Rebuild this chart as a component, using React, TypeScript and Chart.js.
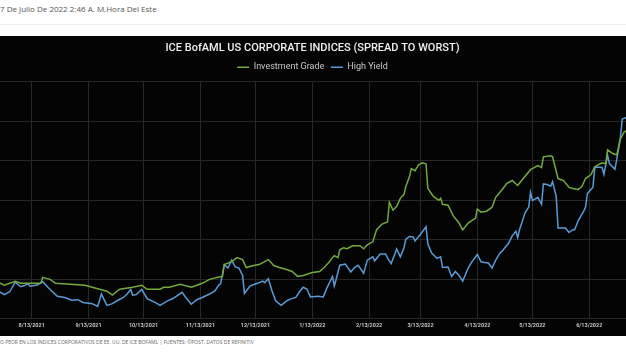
import React, { useEffect, useRef } from "react";
import { Chart, registerables } from "chart.js";

Chart.register(...registerables);

// ---------- data ----------
const BASE_DATE = "2021-08-13";

const igDates = [
  "2021-07-23", "2021-07-27", "2021-07-29", "2021-08-04", "2021-08-07", "2021-08-12", "2021-08-18", "2021-08-19",
  "2021-08-23", "2021-08-26", "2021-09-03", "2021-09-11", "2021-09-15", "2021-09-19", "2021-09-23", "2021-09-26",
  "2021-09-30", "2021-10-07", "2021-10-12", "2021-10-15", "2021-10-22", "2021-10-24", "2021-10-27", "2021-11-02",
  "2021-11-08", "2021-11-11", "2021-11-14", "2021-11-18", "2021-11-22", "2021-11-25", "2021-11-26", "2021-11-30",
  "2021-12-03", "2021-12-06", "2021-12-08", "2021-12-12", "2021-12-15", "2021-12-20", "2021-12-23", "2021-12-26",
  "2021-12-30", "2022-01-02", "2022-01-05", "2022-01-08", "2022-01-13", "2022-01-17", "2022-01-20", "2022-01-22",
  "2022-01-24", "2022-01-25", "2022-01-27", "2022-01-28", "2022-01-30", "2022-02-01", "2022-02-04", "2022-02-08",
  "2022-02-10", "2022-02-12", "2022-02-15", "2022-02-17", "2022-02-20", "2022-02-23", "2022-02-24", "2022-02-26",
  "2022-02-28", "2022-03-02", "2022-03-04", "2022-03-05", "2022-03-07", "2022-03-08", "2022-03-10", "2022-03-12",
  "2022-03-14", "2022-03-16", "2022-03-17", "2022-03-20", "2022-03-23", "2022-03-24", "2022-03-25", "2022-03-28",
  "2022-03-31", "2022-04-03", "2022-04-05", "2022-04-08", "2022-04-12", "2022-04-13", "2022-04-15", "2022-04-18",
  "2022-04-21", "2022-04-23", "2022-04-27", "2022-04-29", "2022-05-02", "2022-05-05", "2022-05-08", "2022-05-12",
  "2022-05-16", "2022-05-18", "2022-05-19", "2022-05-23", "2022-05-24", "2022-05-27", "2022-05-30", "2022-06-02",
  "2022-06-04", "2022-06-07", "2022-06-09", "2022-06-11", "2022-06-14", "2022-06-16", "2022-06-20", "2022-06-22",
  "2022-06-23", "2022-06-26", "2022-06-28", "2022-06-30", "2022-07-02", "2022-07-03", "2022-07-05",
];
const igValues = [
  0.88, 0.88, 0.87, 0.89, 0.88, 0.88, 0.88, 0.91,
  0.90, 0.88, 0.875, 0.87, 0.86, 0.85, 0.84, 0.82,
  0.85, 0.86, 0.87, 0.85, 0.85, 0.86, 0.86, 0.875,
  0.86, 0.87, 0.88, 0.90, 0.91, 0.915, 0.975, 0.99,
  1.01, 1.0, 0.96, 0.97, 0.975, 1.0, 0.97, 0.96,
  0.95, 0.94, 0.915, 0.92, 0.935, 0.94, 0.965, 0.985,
  1.01, 1.02, 1.01, 1.05, 1.06, 1.055, 1.07, 1.07,
  1.055, 1.075, 1.09, 1.15, 1.18, 1.19, 1.29, 1.25,
  1.27, 1.31, 1.33, 1.37, 1.42, 1.46, 1.45, 1.48,
  1.49, 1.485, 1.36, 1.32, 1.30, 1.31, 1.28, 1.275,
  1.22, 1.185, 1.15, 1.185, 1.21, 1.255, 1.24, 1.245,
  1.265, 1.315, 1.36, 1.385, 1.40, 1.375, 1.41, 1.455,
  1.475, 1.465, 1.52, 1.525, 1.52, 1.41, 1.40, 1.365,
  1.36, 1.355, 1.37, 1.41, 1.43, 1.47, 1.49, 1.485,
  1.555, 1.535, 1.53, 1.61, 1.645, 1.65, 1.65,
];

const hyDates = [
  "2021-07-23", "2021-07-27", "2021-07-29", "2021-08-01", "2021-08-04", "2021-08-07", "2021-08-09", "2021-08-11",
  "2021-08-12", "2021-08-16", "2021-08-19", "2021-08-23", "2021-08-27", "2021-08-31", "2021-09-04", "2021-09-07",
  "2021-09-10", "2021-09-15", "2021-09-18", "2021-09-20", "2021-09-23", "2021-09-26", "2021-09-29", "2021-10-02",
  "2021-10-04", "2021-10-06", "2021-10-07", "2021-10-09", "2021-10-12", "2021-10-15", "2021-10-20", "2021-10-22",
  "2021-10-26", "2021-10-29", "2021-11-03", "2021-11-05", "2021-11-08", "2021-11-11", "2021-11-14", "2021-11-18",
  "2021-11-21", "2021-11-23", "2021-11-24", "2021-11-26", "2021-11-28", "2021-11-30", "2021-12-02", "2021-12-04",
  "2021-12-06", "2021-12-07", "2021-12-10", "2021-12-14", "2021-12-17", "2021-12-18", "2021-12-20", "2021-12-22",
  "2021-12-24", "2021-12-27", "2021-12-30", "2022-01-01", "2022-01-04", "2022-01-06", "2022-01-08", "2022-01-10",
  "2022-01-12", "2022-01-16", "2022-01-19", "2022-01-21", "2022-01-24", "2022-01-25", "2022-01-28", "2022-01-31",
  "2022-02-03", "2022-02-05", "2022-02-07", "2022-02-10", "2022-02-12", "2022-02-15", "2022-02-16", "2022-02-19",
  "2022-02-22", "2022-02-23", "2022-02-25", "2022-02-27", "2022-02-28", "2022-03-02", "2022-03-04", "2022-03-05",
  "2022-03-07", "2022-03-09", "2022-03-10", "2022-03-13", "2022-03-16", "2022-03-17", "2022-03-19", "2022-03-22",
  "2022-03-24", "2022-03-25", "2022-03-28", "2022-03-30", "2022-04-01", "2022-04-03", "2022-04-05", "2022-04-08",
  "2022-04-10", "2022-04-13", "2022-04-15", "2022-04-17", "2022-04-19", "2022-04-21", "2022-04-23", "2022-04-25",
  "2022-04-27", "2022-04-30", "2022-05-02", "2022-05-04", "2022-05-05", "2022-05-06", "2022-05-09", "2022-05-11",
  "2022-05-12", "2022-05-13", "2022-05-16", "2022-05-18", "2022-05-19", "2022-05-21", "2022-05-23", "2022-05-24",
  "2022-05-26", "2022-05-27", "2022-05-31", "2022-06-02", "2022-06-04", "2022-06-05", "2022-06-07", "2022-06-10",
  "2022-06-11", "2022-06-12", "2022-06-15", "2022-06-16", "2022-06-17", "2022-06-20", "2022-06-21", "2022-06-23",
  "2022-06-24", "2022-06-27", "2022-06-28", "2022-06-30", "2022-07-01", "2022-07-03", "2022-07-05",
];
const hyValues = [
  2.88, 2.87, 2.83, 2.88, 3.05, 2.97, 2.99, 3.02,
  2.98, 3.00, 3.06, 2.92, 2.80, 2.78, 2.73, 2.74,
  2.69, 2.67, 2.62, 2.84, 2.64, 2.67, 2.73, 2.78,
  2.84, 2.92, 2.82, 2.83, 2.92, 2.76, 2.68, 2.64,
  2.72, 2.76, 2.87, 2.78, 2.66, 2.74, 2.78, 2.84,
  2.90, 3.00, 3.02, 3.36, 3.30, 3.44, 3.32, 3.30,
  3.17, 2.85, 2.98, 3.03, 3.07, 3.04, 3.11, 2.90,
  2.72, 2.64, 2.72, 2.75, 2.78, 2.88, 2.96, 2.93,
  2.79, 2.80, 2.79, 2.95, 3.15, 2.98, 3.35, 3.37,
  3.23, 3.31, 3.35, 3.21, 3.44, 3.50, 3.43, 3.55,
  3.55, 3.48, 3.38, 3.55, 3.64, 3.50, 3.66, 3.81,
  3.86, 3.85, 3.78, 3.90, 4.03, 3.73, 3.57, 3.47,
  3.50, 3.31, 3.32, 3.15, 3.24, 3.17, 3.07, 3.30,
  3.41, 3.54, 3.41, 3.40, 3.39, 3.30, 3.44, 3.55,
  3.62, 3.74, 3.87, 3.95, 3.84, 3.98, 4.28, 4.38,
  4.64, 4.50, 4.55, 4.43, 4.79, 4.78, 4.75, 4.83,
  4.57, 4.01, 4.01, 3.93, 3.98, 3.98, 4.14, 4.31,
  4.38, 4.62, 4.73, 5.07, 5.09, 5.08, 4.96, 5.30,
  5.15, 5.05, 5.22, 5.62, 5.94, 5.96, 5.96,
];

const tickDates = [
  "2021-08-13", "2021-09-13", "2021-10-13", "2021-11-13", "2021-12-13", "2022-01-13",
  "2022-02-13", "2022-03-13", "2022-04-13", "2022-05-13", "2022-06-13",
];
const tickLabels = [
  "8/13/2021", "9/13/2021", "10/13/2021", "11/13/2021", "12/13/2021", "1/13/2022",
  "2/13/2022", "3/13/2022", "4/13/2022", "5/13/2022", "6/13/2022",
];

const TITLE = "ICE BofAML US CORPORATE INDICES (SPREAD TO WORST)";
const HEADER = "7 De Julio De 2022 2:46 A. M.Hora Del Este";
const CAPTION =
  "O PEOR EN LOS ÍNDICES CORPORATIVOS DE EE. UU. DE ICE BOFAML | FUENTES: ©POST, DATOS DE REFINITIV";

// ---------- styling / layout ----------
const GREEN = "#73ab3f";
const BLUE = "#5b9bd6";
const GRID = "#262729";
const PANEL = "#040405";
const CHART_FONT = "Roboto, 'Noto Sans', sans-serif";

const CANVAS_LEFT = -40;
const CANVAS_W = 705;
const CANVAS_H = 300;
// visible time axis: 8/13/2021 sits at x = 31.7px, 1.834 px per day
const AXIS_ORIGIN_PX = 31.7;
const PX_PER_DAY = 1.834;

const dayOffset = (s: string) =>
  (Date.parse(s + "T00:00:00Z") - Date.parse(BASE_DATE + "T00:00:00Z")) / 86400000;

export default function App() {
  const ref = useRef<HTMLCanvasElement | null>(null);

  useEffect(() => {
    if (!ref.current) return;
    const xMin = (CANVAS_LEFT - AXIS_ORIGIN_PX) / PX_PER_DAY;
    const xMax = (CANVAS_LEFT + CANVAS_W - AXIS_ORIGIN_PX) / PX_PER_DAY;
    const chart = new Chart(ref.current, {
      type: "line",
      data: {
        datasets: [
          {
            label: "Investment Grade",
            data: igDates.map((d, i) => ({ x: dayOffset(d), y: igValues[i] })),
            borderColor: GREEN,
            backgroundColor: GREEN,
            borderWidth: 1.5,
            pointRadius: 0,
            tension: 0,
            yAxisID: "yIG",
          },
          {
            label: "High Yield",
            data: hyDates.map((d, i) => ({ x: dayOffset(d), y: hyValues[i] })),
            borderColor: BLUE,
            backgroundColor: BLUE,
            borderWidth: 1.5,
            pointRadius: 0,
            tension: 0,
            yAxisID: "yHY",
          },
        ],
      },
      options: {
        animation: false,
        responsive: false,
        maintainAspectRatio: false,
        layout: { padding: { left: 0, right: 0, top: 0, bottom: 4.5 } },
        plugins: {
          title: {
            display: true,
            text: TITLE,
            color: "#f0f0f0",
            font: { family: CHART_FONT, size: 11, weight: "500" },
            padding: { top: 6, bottom: 1 },
          },
          legend: {
            display: true,
            labels: {
              usePointStyle: true,
              pointStyle: "line",
              pointStyleWidth: 12,
              color: "#c8c8c8",
              font: { family: CHART_FONT, size: 9 },
              padding: 6.5,
            },
          },
          tooltip: { enabled: false },
        },
        scales: {
          x: {
            type: "linear",
            min: xMin,
            max: xMax,
            afterBuildTicks: (axis: any) => {
              axis.ticks = tickDates.map((d) => ({ value: dayOffset(d) }));
            },
            ticks: {
              callback: (_v: any, i: number) => tickLabels[i],
              color: "#c4c4c4",
              font: { family: CHART_FONT, size: 5.5, weight: "bold" },
              padding: 3,
              maxRotation: 0,
              autoSkip: false,
            },
            grid: { color: GRID, drawTicks: false },
            border: { color: GRID },
          },
          yIG: {
            position: "left",
            min: 0.7,
            max: 1.9,
            ticks: { display: false, stepSize: 0.2 },
            grid: { color: GRID, drawTicks: false },
            border: { display: false },
          },
          yHY: {
            position: "right",
            min: 2.4,
            max: 6.6,
            ticks: { display: false, stepSize: 0.7 },
            grid: { display: false, drawTicks: false },
            border: { display: false },
          },
        },
      },
    } as any);
    return () => chart.destroy();
  }, []);

  return (
    <div
      style={{
        position: "fixed",
        left: 0,
        top: 0,
        width: 626,
        height: 352,
        overflow: "hidden",
        background: "#ffffff",
      }}
    >
      <div
        style={{
          position: "absolute",
          left: 0,
          top: 2,
          fontFamily: "'Open Sans', 'Noto Sans', sans-serif",
          fontSize: 8,
          color: "#555",
          whiteSpace: "nowrap",
          lineHeight: "13px",
        }}
      >
        {HEADER}
      </div>
      <div
        style={{
          position: "absolute",
          left: 0,
          top: 24,
          width: 626,
          height: 1,
          background: "#ececec",
        }}
      />
      <div
        style={{
          position: "absolute",
          left: 0,
          top: 36,
          width: 626,
          height: CANVAS_H,
          background: PANEL,
          overflow: "hidden",
        }}
      >
        <canvas
          ref={ref}
          width={CANVAS_W}
          height={CANVAS_H}
          style={{ position: "absolute", left: CANVAS_LEFT, top: 0, width: CANVAS_W, height: CANVAS_H }}
        />
      </div>
      <div
        style={{
          position: "absolute",
          left: 0,
          top: 338,
          fontFamily: "'Open Sans', 'Noto Sans', sans-serif",
          fontSize: 5,
          color: "#666",
          whiteSpace: "nowrap",
          lineHeight: "8px",
        }}
      >
        {CAPTION}
      </div>
    </div>
  );
}
